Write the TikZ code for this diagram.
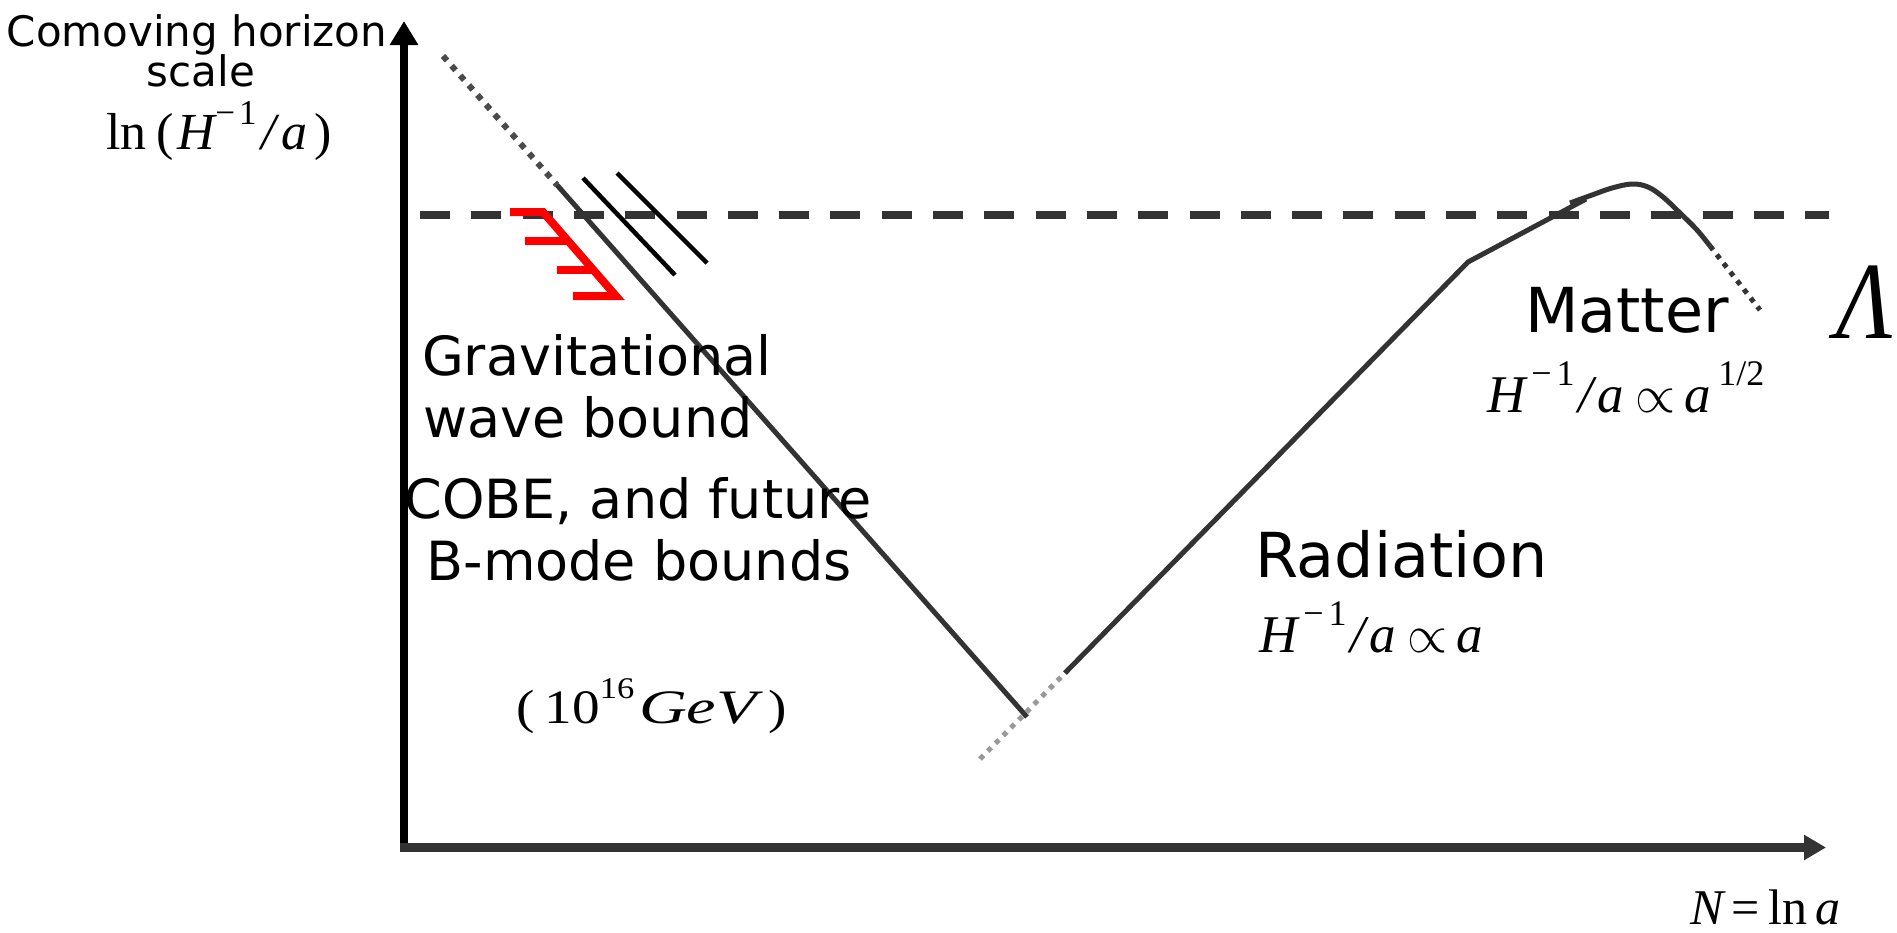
\documentclass[tikz,border=0pt]{standalone}
\usepackage{fontspec}
\usepackage{graphicx}
\setmainfont{DejaVu Sans}
\newfontfamily\tm{Liberation Serif}
\usetikzlibrary{arrows.meta}
\definecolor{dg}{HTML}{333333}
\definecolor{dotg}{HTML}{4A4A4A}
\definecolor{lg}{HTML}{999999}
\newcommand\Mi[1]{{\tm\itshape #1}}
\newcommand\Up[1]{{\tm #1}}
\newcommand\fs[1]{\fontsize{#1}{#1}\selectfont}
\newcommand\prp{\resizebox{40pt}{23pt}{$\propto$}}
\tikzset{
  main/.style={dg, line width=5pt},
  dotline/.style={dotg, line width=6pt, dash pattern=on 6pt off 7pt},
  lgdot/.style={lg, line width=5pt, dash pattern=on 5pt off 6pt},
  tail/.style={dg, line width=5pt, dash pattern=on 5pt off 6pt},
  bound/.style={black, line width=4.5pt},
  redb/.style={red, line width=8pt, line join=miter},
  lbl/.style={inner sep=0pt, outer sep=0pt},
}
\begin{document}
\begin{tikzpicture}[x=1pt,y=-1pt]
\useasboundingbox (0,0) rectangle (1897,932);
% Lambda level
\draw[dg, line width=8pt, dash pattern=on 30pt off 21.3pt] (420,215) -- (1829,215);
% axes
\draw[black, line width=8pt, -{Triangle[width=27pt,length=24pt]}] (404,847) -- (404,21);
\draw[dg, line width=9pt, -{Triangle[width=24pt,length=22pt]}] (400,847.5) -- (1826,847.5);
% inflation line
\coordinate (p0) at (443,56);
\coordinate (p1) at (557,185);
\coordinate (v) at (1027,717);
\draw[dotline] (p0) -- (p1);
\draw[main] (p1) -- (v);
% radiation line
\coordinate (g0) at (980,759);
\coordinate (g1) at (1070,668);
\coordinate (r0) at (1065,673);
\coordinate (k) at (1468,262);
\coordinate (m1) at (1586,199);
\draw[lgdot] (g0) -- (g1);
\draw[main, line join=miter] (r0) -- (k) -- (m1);
\draw[main] plot[smooth, tension=0.6] coordinates {(1570,203) (1592,195) (1612,188) (1632,184) (1648,187) (1663,197) (1680,213) (1697,230) (1710,246)};
\coordinate (t0) at (1710,246);
\coordinate (t1) at (1760,310);
\draw[tail] (t0) -- (t1);
% bounds
\coordinate (b1a) at (583,178); \coordinate (b1b) at (675,275);
\coordinate (b2a) at (617,173); \coordinate (b2b) at (707,263);
\draw[bound] (b1a) -- (b1b);
\draw[bound] (b2a) -- (b2b);
% red hatch
\draw[redb] (510,212) -- (543,212) -- (616,296) -- (573,296);
\draw[redb] (525,241) -- (568,241);
\draw[redb] (557,270) -- (593,270);
% texts
\node[lbl, anchor=base, font=\fs{42}] (ya1) at (197,46) {Comoving horizon};
\node[lbl, anchor=base, font=\fs{42}] (ya2) at (201,86) {scale};
\node[lbl, anchor=base west, font=\fs{52}] (ya3) at (106,149) {\Up{ln}\hspace{10pt}\Up{(}\hspace{4pt}\Mi{H}\raisebox{25pt}{\fs{35}\Up{−\hspace{4pt}1}}\hspace{5pt}\Mi{/}\hspace{5pt}\Mi{a}\hspace{7pt}\Up{)}};
\node[lbl, anchor=base west, font=\fs{54}] (gw1) at (422,375) {Gravitational};
\node[lbl, anchor=base west, font=\fs{54}] (gw2) at (423,437) {wave bound};
\node[lbl, anchor=base, font=\fs{54}] (cb1) at (638,518) {COBE, and future};
\node[lbl, anchor=base, font=\fs{54}] (cb2) at (639,580) {B-mode bounds};
\node[lbl, anchor=base west, font=\fs{48}] (en) at (516,723) {\scalebox{1.15}[1]{\Up{(}\hspace{9pt}\Up{10}\raisebox{25pt}{\fs{30}\Up{16}}\hspace{4pt}\scalebox{1.2}[1]{\Mi{GeV}}\hspace{10pt}\Up{)}}};
\node[lbl, anchor=base west, font=\fs{53}] (rad) at (1255,577) {\fs{62}Radiation};
\node[lbl, anchor=base west, font=\fs{53}] (radf) at (1259,652) {\Mi{H}\hspace{6pt}\raisebox{27pt}{\fs{36}\Up{−\hspace{5pt}1}}\hspace{4pt}\Mi{/}\hspace{4pt}\Mi{a}\hspace{12pt}\prp\hspace{9pt}\Mi{a}};
\node[lbl, anchor=base west, font=\fs{62}] (mat) at (1525,332) {Matter};
\node[lbl, anchor=base west, font=\fs{53}] (matf) at (1487,412) {\Mi{H}\hspace{6pt}\raisebox{27pt}{\fs{36}\Up{−\hspace{5pt}1}}\hspace{4pt}\Mi{/}\hspace{4pt}\Mi{a}\hspace{12pt}\prp\hspace{9pt}\Mi{a}\hspace{7pt}\raisebox{27pt}{\fs{36}\Up{1/2}}};
\node[lbl, anchor=base east, font=\fs{110}] (lam) at (1893,338) {\scalebox{0.85}[1]{\Mi{Λ}}};
\node[lbl, anchor=base west, font=\fs{50}] (nla) at (1690,924) {\Mi{N}\,\Up{=}\,\Up{ln}\,\Mi{a}};
\end{tikzpicture}
\end{document}
